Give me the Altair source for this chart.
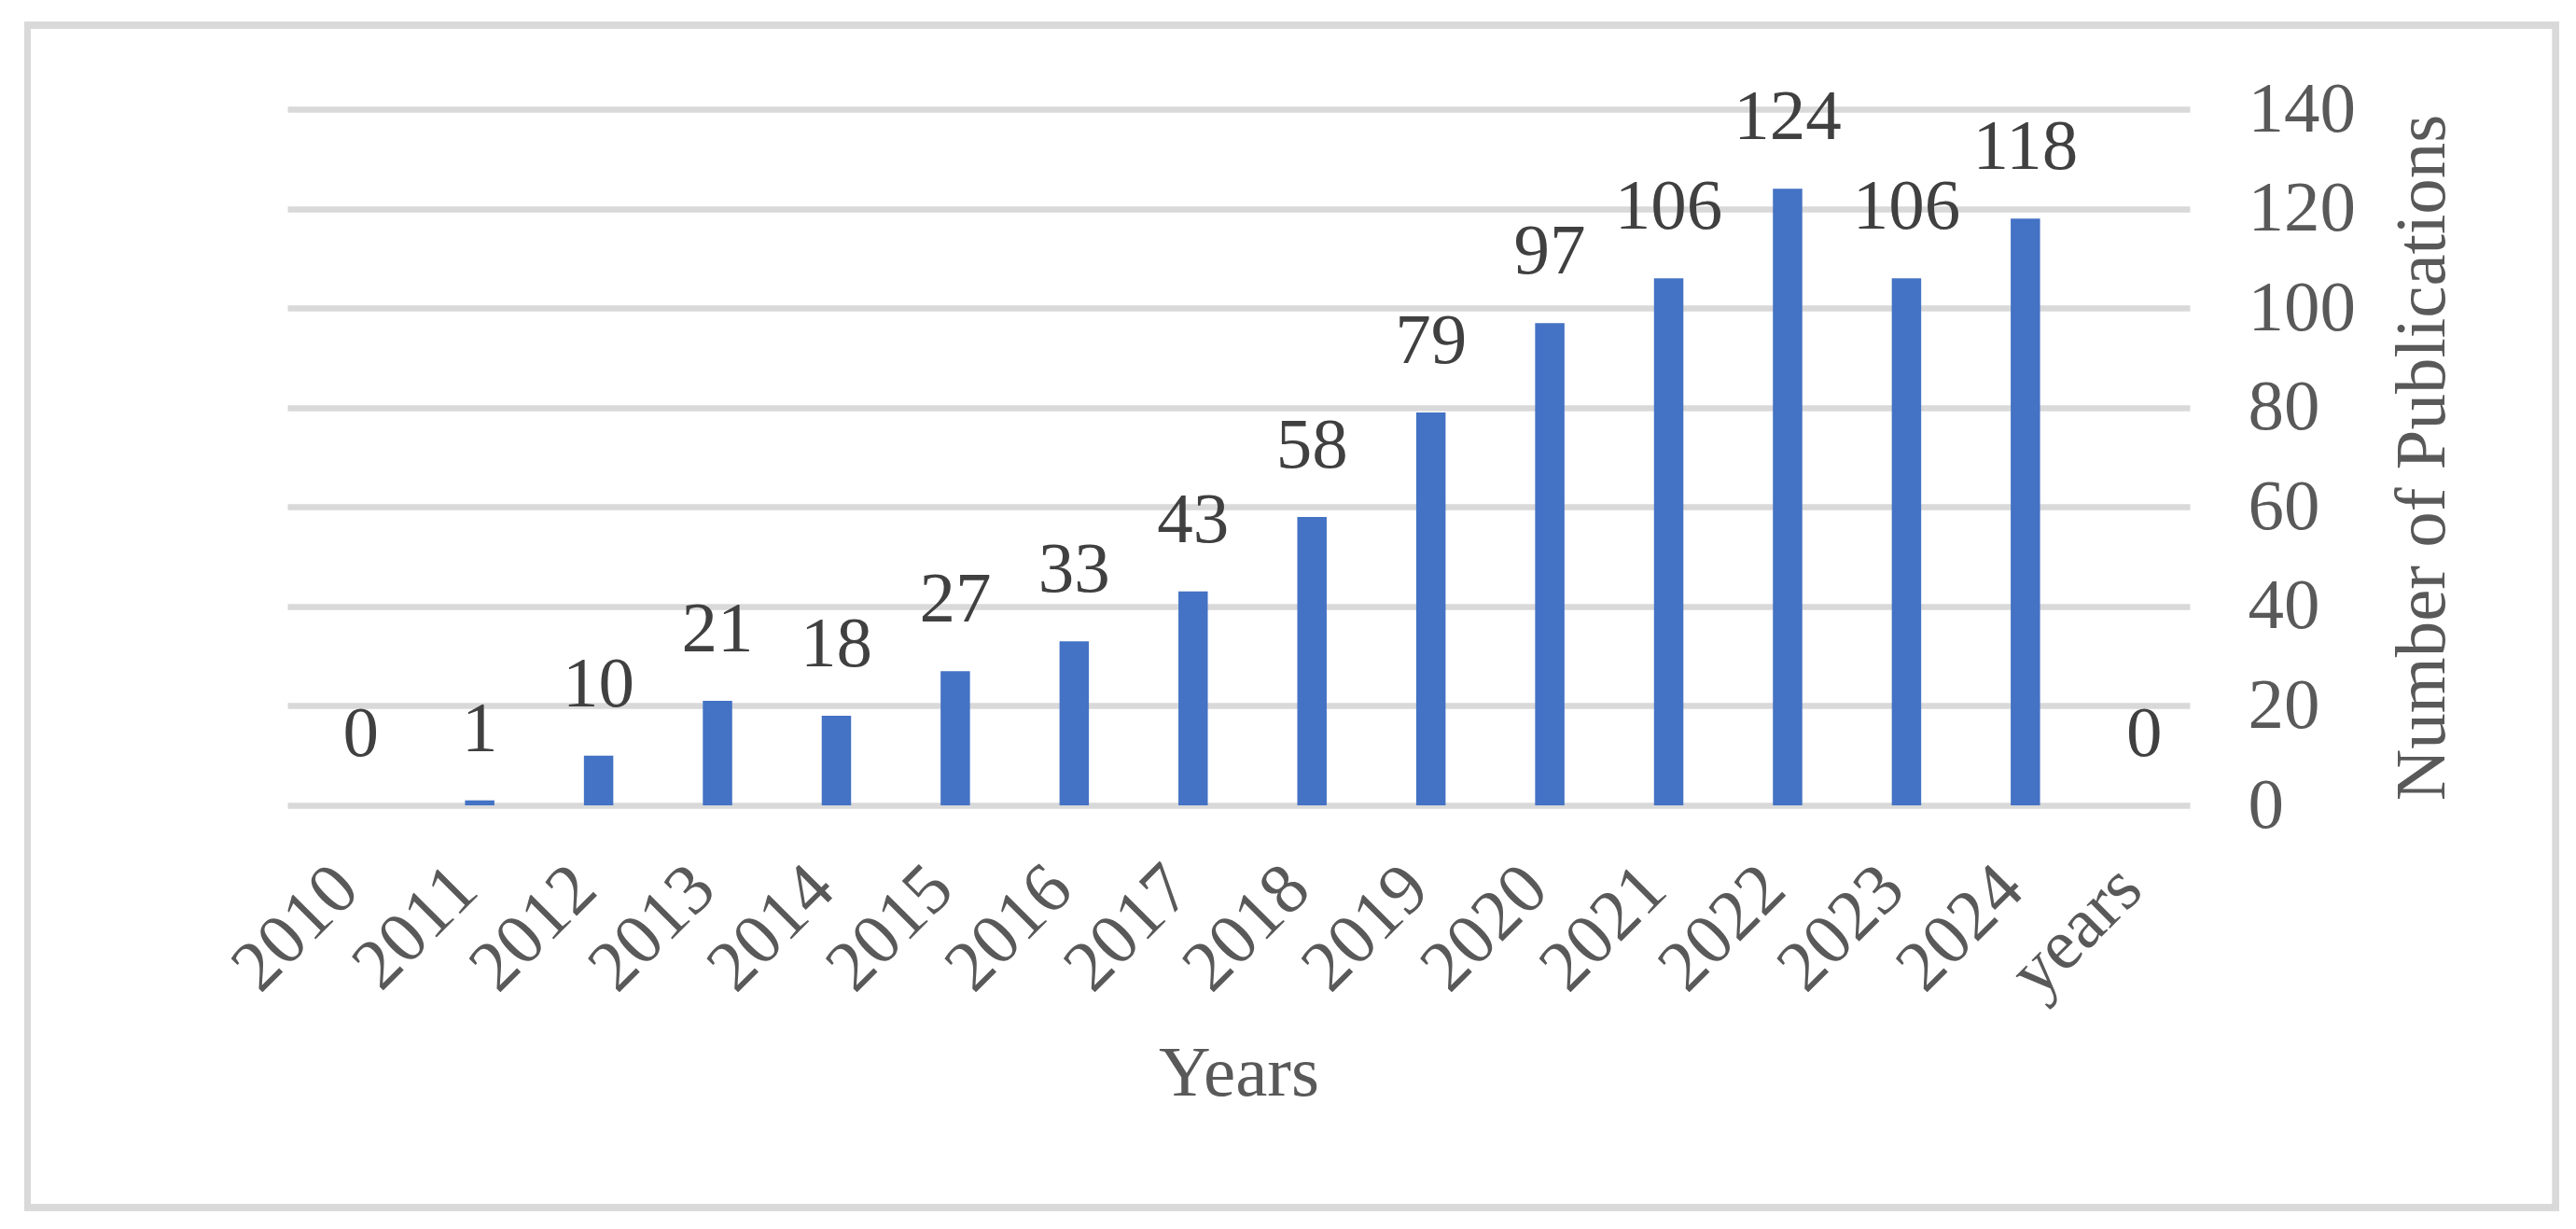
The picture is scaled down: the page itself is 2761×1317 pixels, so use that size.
import altair as alt
import pandas as pd

# ---- data ----
years = ["2010", "2011", "2012", "2013", "2014", "2015", "2016", "2017",
         "2018", "2019", "2020", "2021", "2022", "2023", "2024", "years"]
counts = [0, 1, 10, 21, 18, 27, 33, 43, 58, 79, 97, 106, 124, 106, 118, 0]
y_ticks = [0, 20, 40, 60, 80, 100, 120, 140]

df = pd.DataFrame({"Year": years, "Count": counts})

FONT = "Liberation Serif"
FS = 77
W, H = 2039, 746

x_enc = alt.X(
    "Year:N",
    sort=years,
    scale=alt.Scale(paddingInner=0.753, paddingOuter=0.3765),
    axis=alt.Axis(
        title="Years",
        labelAngle=-45,
        labelAlign="right",
        labelBaseline="middle",
        labelPadding=77,
        labelOverlap=False,
        labelFont=FONT,
        labelFontSize=FS,
        labelColor="#595959",
        ticks=False,
        tickSize=0,
        domain=False,
        grid=False,
        titleFont=FONT,
        titleFontSize=FS,
        titleFontWeight="normal",
        titleColor="#595959",
        titleBaseline="alphabetic",
        titleX=W / 2,
        titleY=310.5,
        titleAlign="center",
    ),
)

y_enc = alt.Y(
    "Count:Q",
    scale=alt.Scale(domain=[0, 140], nice=False),
    axis=alt.Axis(
        orient="right",
        values=y_ticks,
        title="Number of Publications",
        titleAngle=270,
        titleX=272.5,
        titleY=H / 2,
        titleAlign="center",
        titleBaseline="alphabetic",
        titleFont=FONT,
        titleFontSize=FS,
        titleFontWeight="normal",
        titleColor="#595959",
        labelFont=FONT,
        labelFontSize=FS,
        labelColor="#595959",
        labelAlign="left",
        labelBaseline="middle",
        labelPadding=62,
        labelFlush=False,
        labelOverlap=False,
        ticks=False,
        tickSize=0,
        domain=False,
        grid=True,
        gridColor="#d9d9d9",
        gridWidth=6.7,
    ),
)

bars = alt.Chart(df).mark_bar(color="#4472C4", xOffset=15).encode(
    x=x_enc, y=y_enc
)

labels = alt.Chart(df).mark_text(
    font=FONT, fontSize=FS, color="#404040", baseline="alphabetic",
    align="center", dy=-53, xOffset=15,
).encode(
    x=alt.X("Year:N", sort=years),
    y=alt.Y("Count:Q"),
    text=alt.Text("Count:Q"),
)

border = alt.Chart(df).mark_rect(
    fillOpacity=0, stroke="#d9d9d9", strokeWidth=6.7
).encode(
    x=alt.value(-278.5), x2=alt.value(2431.3),
    y=alt.value(-90), y2=alt.value(1177),
)

chart = alt.layer(border, bars, labels).properties(
    width=W,
    height=H,
    autosize=alt.AutoSizeParams(type="none"),
    padding={"left": 300, "top": 109, "right": 406, "bottom": 440},
    background="white",
).configure_view(stroke=None)

chart.save("out.html", embed_options={"renderer": "svg", "actions": False})
